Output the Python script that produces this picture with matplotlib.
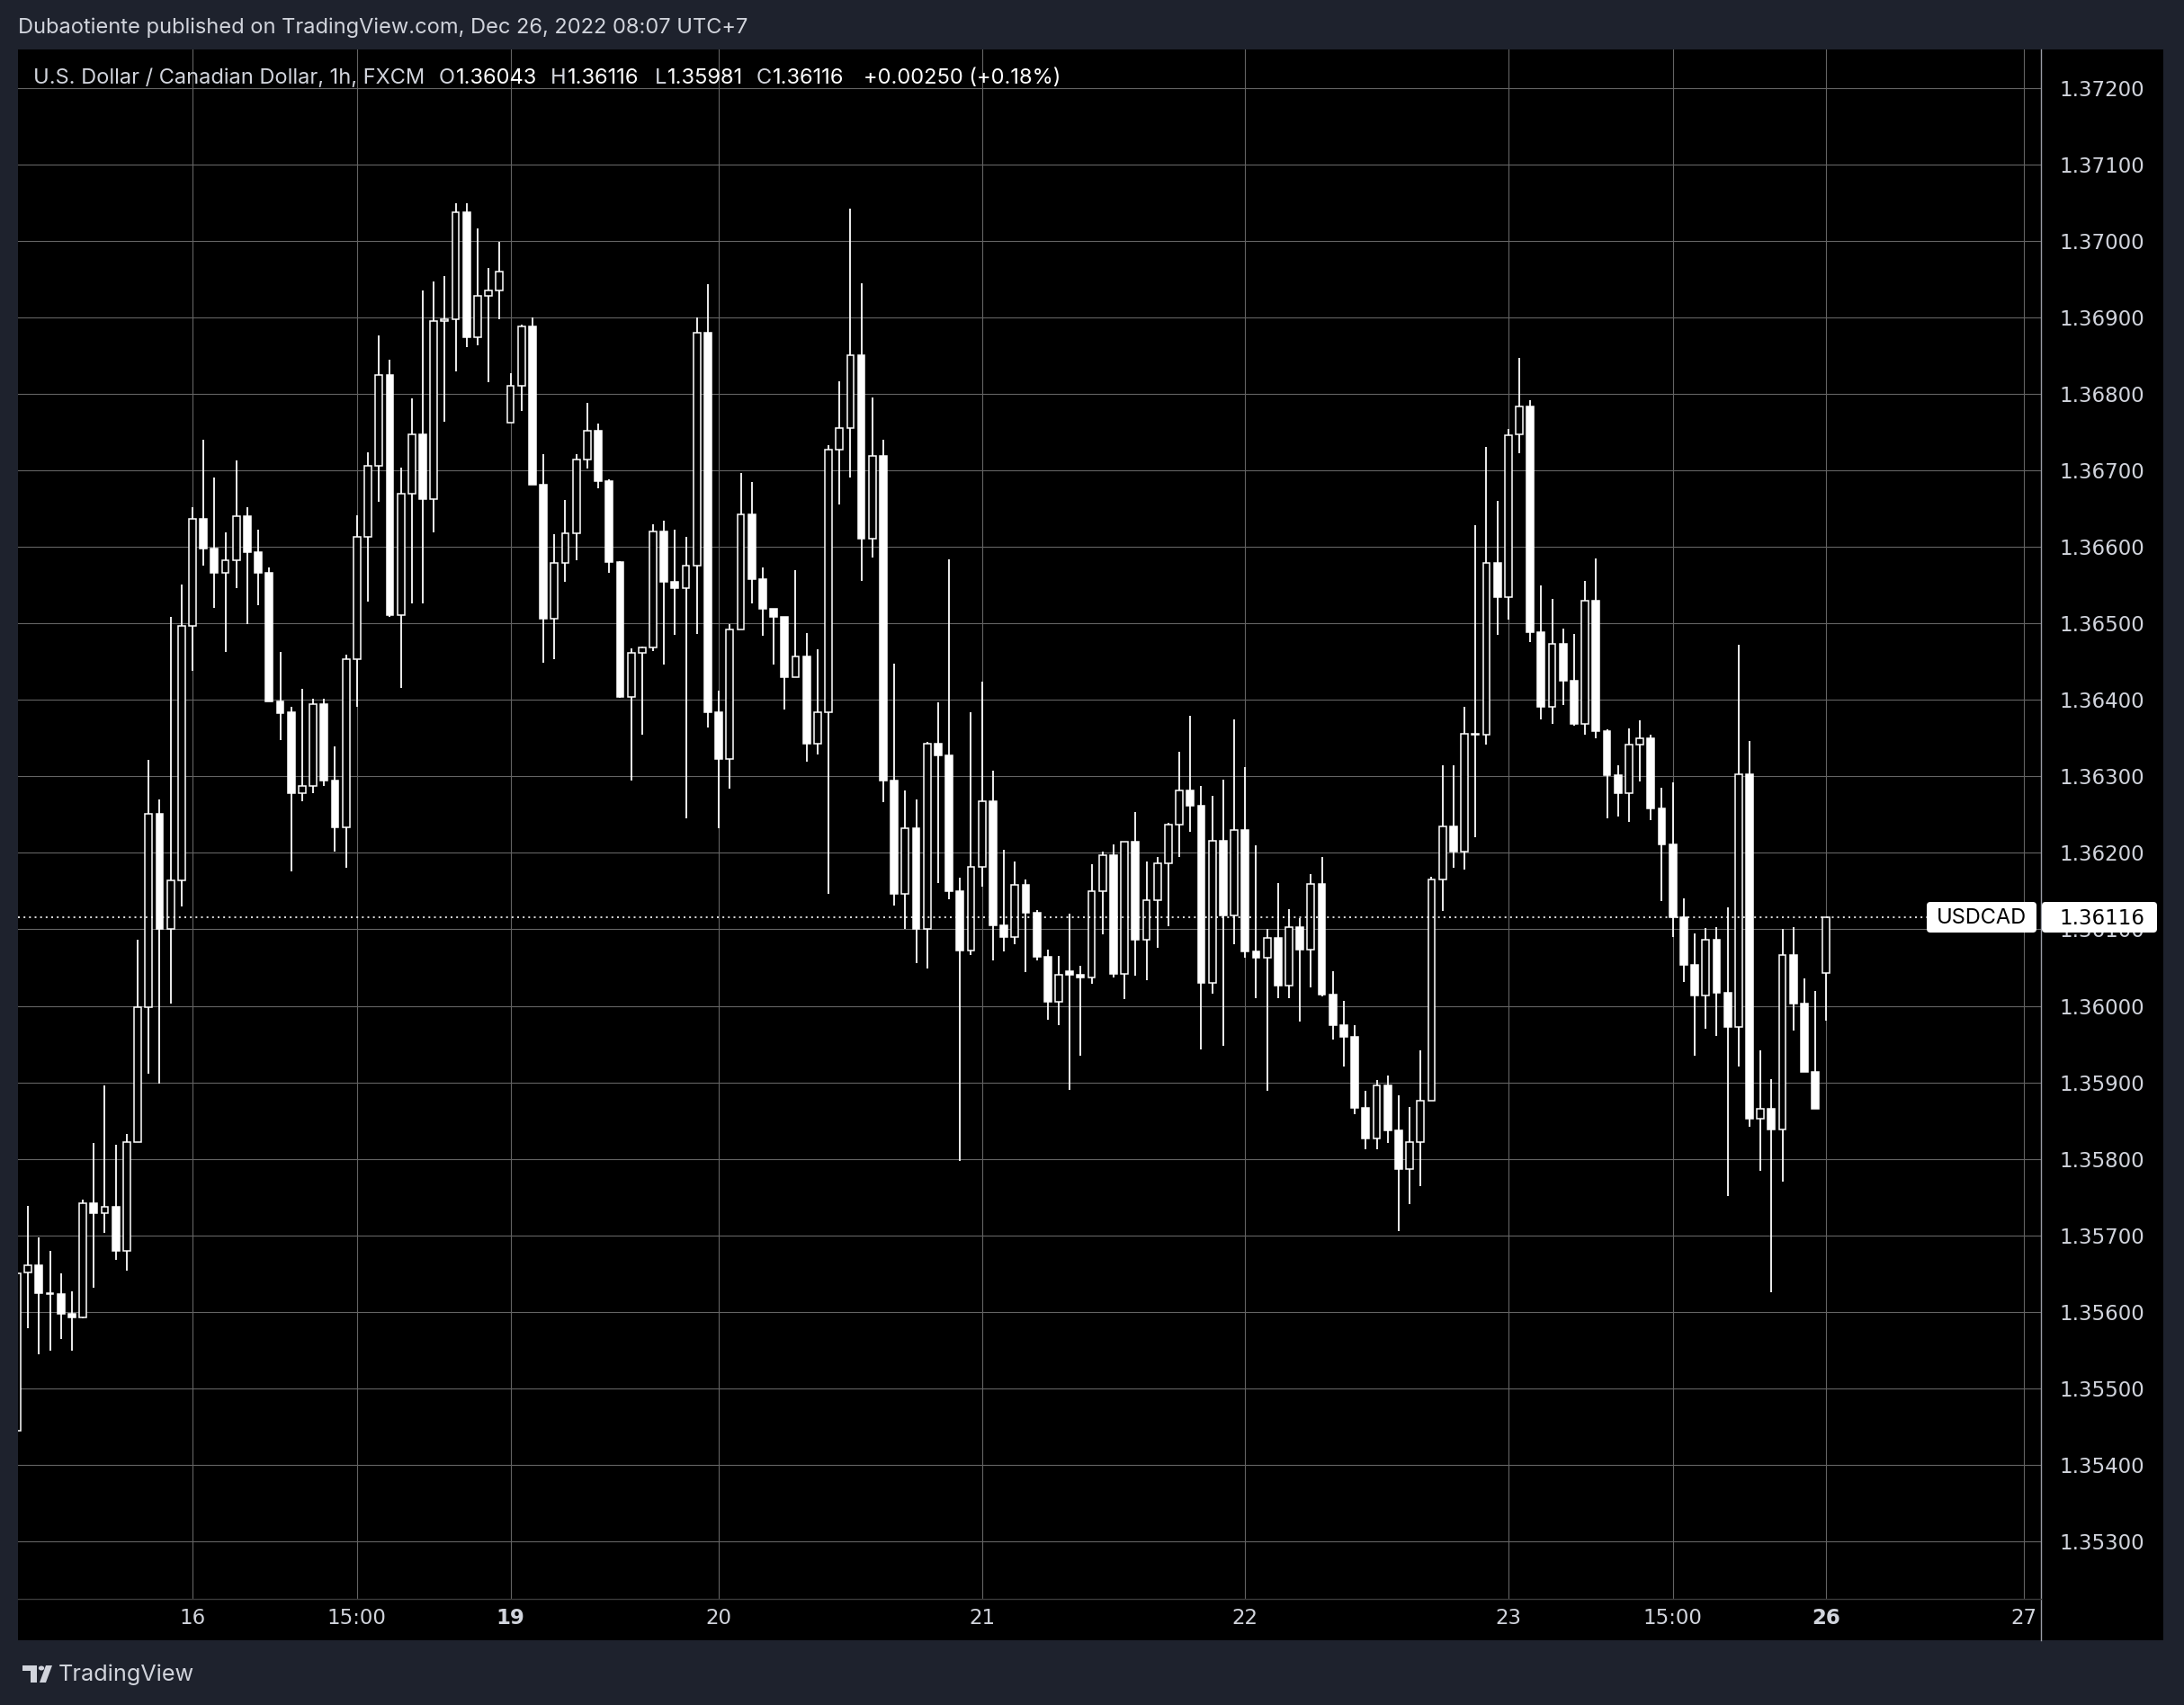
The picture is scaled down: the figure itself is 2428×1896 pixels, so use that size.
import matplotlib
matplotlib.use("Agg")
import matplotlib.pyplot as plt
from matplotlib.patches import Rectangle, FancyBboxPatch, Circle, Polygon
from matplotlib.lines import Line2D
import numpy as np

plt.rcParams['font.family'] = ['Inter', 'DejaVu Sans']

# ---------------- data (hourly USDCAD, FXCM) ----------------
opens = [1.35445, 1.35651, 1.35661, 1.35625, 1.35623, 1.35598, 1.35593, 1.35742, 1.35729, 1.35737,
         1.35680, 1.35822, 1.35998, 1.36251, 1.36100, 1.36164, 1.36497, 1.36637, 1.36598, 1.36566,
         1.36582, 1.36640, 1.36593, 1.36566, 1.36398, 1.36384, 1.36278, 1.36287, 1.36395, 1.36295,
         1.36233, 1.36453, 1.36613, 1.36706, 1.36825, 1.36511, 1.36670, 1.36747, 1.36662, 1.36895,
         1.36897, 1.37037, 1.36874, 1.36928, 1.36935, 1.36762, 1.36810, 1.36888, 1.36681, 1.36506,
         1.36579, 1.36618, 1.36714, 1.36752, 1.36686, 1.36580, 1.36404, 1.36461, 1.36468, 1.36620,
         1.36554, 1.36546, 1.36576, 1.36880, 1.36384, 1.36323, 1.36492, 1.36642, 1.36558, 1.36519,
         1.36508, 1.36430, 1.36457, 1.36343, 1.36384, 1.36727, 1.36755, 1.36850, 1.36611, 1.36719,
         1.36295, 1.36146, 1.36232, 1.36100, 1.36343, 1.36328, 1.36150, 1.36072, 1.36182, 1.36267,
         1.36105, 1.36090, 1.36158, 1.36122, 1.36064, 1.36005, 1.36045, 1.36041, 1.36037, 1.36150,
         1.36197, 1.36042, 1.36215, 1.36086, 1.36138, 1.36186, 1.36237, 1.36282, 1.36262, 1.36030,
         1.36216, 1.36118, 1.36230, 1.36071, 1.36063, 1.36089, 1.36027, 1.36103, 1.36073, 1.36159,
         1.36015, 1.35975, 1.35959, 1.35867, 1.35827, 1.35896, 1.35837, 1.35787, 1.35822, 1.35876,
         1.36165, 1.36234, 1.36202, 1.36356, 1.36354, 1.36579, 1.36534, 1.36747, 1.36783, 1.36488,
         1.36391, 1.36473, 1.36425, 1.36369, 1.36530, 1.36359, 1.36302, 1.36278, 1.36341, 1.36350,
         1.36258, 1.36211, 1.36116, 1.36053, 1.36014, 1.36086, 1.36017, 1.35972, 1.36303, 1.35852,
         1.35865, 1.35839, 1.36066, 1.36003, 1.35914, 1.36043]
highs = [1.35660, 1.35739, 1.35697, 1.35680, 1.35650, 1.35627, 1.35747, 1.35821, 1.35896, 1.35819,
         1.35832, 1.36086, 1.36321, 1.36270, 1.36508, 1.36551, 1.36652, 1.36740, 1.36691, 1.36619,
         1.36713, 1.36652, 1.36623, 1.36573, 1.36463, 1.36391, 1.36414, 1.36401, 1.36401, 1.36339,
         1.36459, 1.36641, 1.36723, 1.36876, 1.36845, 1.36704, 1.36794, 1.36935, 1.36947, 1.36954,
         1.37049, 1.37049, 1.37016, 1.36964, 1.36999, 1.36827, 1.36890, 1.36900, 1.36721, 1.36617,
         1.36661, 1.36721, 1.36788, 1.36761, 1.36688, 1.36581, 1.36467, 1.36470, 1.36629, 1.36634,
         1.36623, 1.36613, 1.36900, 1.36943, 1.36412, 1.36499, 1.36696, 1.36685, 1.36573, 1.36519,
         1.36508, 1.36569, 1.36487, 1.36466, 1.36733, 1.36816, 1.37042, 1.36944, 1.36795, 1.36740,
         1.36447, 1.36281, 1.36270, 1.36345, 1.36397, 1.36584, 1.36168, 1.36384, 1.36424, 1.36307,
         1.36204, 1.36189, 1.36165, 1.36125, 1.36074, 1.36065, 1.36121, 1.36052, 1.36185, 1.36202,
         1.36211, 1.36215, 1.36253, 1.36189, 1.36195, 1.36239, 1.36332, 1.36379, 1.36288, 1.36275,
         1.36296, 1.36375, 1.36312, 1.36210, 1.36100, 1.36161, 1.36127, 1.36115, 1.36172, 1.36195,
         1.36045, 1.36006, 1.35975, 1.35889, 1.35903, 1.35909, 1.35883, 1.35868, 1.35942, 1.36169,
         1.36314, 1.36314, 1.36391, 1.36628, 1.36731, 1.36660, 1.36754, 1.36847, 1.36792, 1.36550,
         1.36532, 1.36493, 1.36486, 1.36555, 1.36585, 1.36361, 1.36315, 1.36363, 1.36373, 1.36355,
         1.36285, 1.36292, 1.36140, 1.36095, 1.36102, 1.36103, 1.36129, 1.36472, 1.36346, 1.35942,
         1.35904, 1.36100, 1.36103, 1.36036, 1.36020, 1.36116]
lows = [1.35440, 1.35579, 1.35545, 1.35549, 1.35565, 1.35549, 1.35592, 1.35632, 1.35703, 1.35668,
        1.35654, 1.35822, 1.35911, 1.35898, 1.36003, 1.36130, 1.36438, 1.36575, 1.36520, 1.36462,
        1.36546, 1.36499, 1.36524, 1.36398, 1.36347, 1.36176, 1.36268, 1.36278, 1.36287, 1.36202,
        1.36181, 1.36391, 1.36528, 1.36659, 1.36508, 1.36416, 1.36526, 1.36526, 1.36619, 1.36764,
        1.36829, 1.36861, 1.36863, 1.36815, 1.36898, 1.36762, 1.36778, 1.36681, 1.36449, 1.36453,
        1.36554, 1.36583, 1.36702, 1.36676, 1.36566, 1.36403, 1.36294, 1.36355, 1.36464, 1.36446,
        1.36485, 1.36245, 1.36486, 1.36364, 1.36232, 1.36284, 1.36492, 1.36526, 1.36484, 1.36446,
        1.36387, 1.36430, 1.36319, 1.36329, 1.36146, 1.36655, 1.36691, 1.36556, 1.36586, 1.36266,
        1.36131, 1.36100, 1.36056, 1.36049, 1.36160, 1.36139, 1.35797, 1.36066, 1.36156, 1.36060,
        1.36071, 1.36081, 1.36044, 1.36060, 1.35982, 1.35975, 1.35890, 1.35935, 1.36029, 1.36093,
        1.36037, 1.36009, 1.36040, 1.36034, 1.36076, 1.36104, 1.36195, 1.36227, 1.35943, 1.36016,
        1.35948, 1.36081, 1.36063, 1.36010, 1.35889, 1.36010, 1.36010, 1.35979, 1.36024, 1.36013,
        1.35956, 1.35921, 1.35858, 1.35813, 1.35813, 1.35821, 1.35706, 1.35741, 1.35764, 1.35876,
        1.36124, 1.36181, 1.36178, 1.36220, 1.36342, 1.36485, 1.36505, 1.36722, 1.36475, 1.36375,
        1.36368, 1.36393, 1.36366, 1.36355, 1.36350, 1.36245, 1.36248, 1.36240, 1.36293, 1.36243,
        1.36137, 1.36090, 1.36031, 1.35935, 1.35970, 1.35961, 1.35751, 1.35921, 1.35842, 1.35784,
        1.35626, 1.35770, 1.35968, 1.35914, 1.35865, 1.35981]
closes = [1.35650, 1.35661, 1.35625, 1.35623, 1.35598, 1.35593, 1.35742, 1.35729, 1.35737, 1.35680,
          1.35822, 1.35998, 1.36251, 1.36100, 1.36164, 1.36497, 1.36637, 1.36598, 1.36566, 1.36582,
          1.36640, 1.36593, 1.36566, 1.36398, 1.36383, 1.36278, 1.36287, 1.36395, 1.36295, 1.36233,
          1.36453, 1.36613, 1.36706, 1.36825, 1.36511, 1.36670, 1.36747, 1.36662, 1.36895, 1.36897,
          1.37037, 1.36874, 1.36928, 1.36935, 1.36960, 1.36810, 1.36888, 1.36681, 1.36506, 1.36579,
          1.36618, 1.36714, 1.36752, 1.36686, 1.36580, 1.36404, 1.36461, 1.36468, 1.36620, 1.36554,
          1.36546, 1.36576, 1.36880, 1.36384, 1.36323, 1.36492, 1.36642, 1.36558, 1.36519, 1.36508,
          1.36430, 1.36457, 1.36343, 1.36384, 1.36727, 1.36755, 1.36850, 1.36611, 1.36719, 1.36295,
          1.36146, 1.36232, 1.36100, 1.36343, 1.36328, 1.36150, 1.36072, 1.36182, 1.36267, 1.36105,
          1.36090, 1.36158, 1.36122, 1.36064, 1.36005, 1.36041, 1.36041, 1.36037, 1.36150, 1.36197,
          1.36042, 1.36215, 1.36086, 1.36138, 1.36186, 1.36237, 1.36282, 1.36262, 1.36030, 1.36216,
          1.36118, 1.36230, 1.36071, 1.36063, 1.36089, 1.36027, 1.36103, 1.36073, 1.36159, 1.36015,
          1.35975, 1.35959, 1.35867, 1.35827, 1.35896, 1.35837, 1.35787, 1.35822, 1.35876, 1.36165,
          1.36234, 1.36202, 1.36356, 1.36355, 1.36579, 1.36534, 1.36746, 1.36783, 1.36488, 1.36391,
          1.36473, 1.36425, 1.36369, 1.36530, 1.36359, 1.36302, 1.36278, 1.36341, 1.36350, 1.36258,
          1.36211, 1.36116, 1.36053, 1.36014, 1.36086, 1.36017, 1.35972, 1.36303, 1.35852, 1.35865,
          1.35839, 1.36066, 1.36003, 1.35914, 1.35865, 1.36116]

time_tick_bars = [16, 31, 45, 64, 88, 112, 136, 151, 165, 183]
time_tick_labels = ["16", "15:00", "19", "20", "21", "22", "23", "15:00", "26", "27"]
bold_time_labels = ["19", "26"]
price_ticks = [1.353, 1.354, 1.355, 1.356, 1.357, 1.358, 1.359, 1.360, 1.361, 1.362,
               1.363, 1.364, 1.365, 1.366, 1.367, 1.368, 1.369, 1.370, 1.371, 1.372]
symbol = "USDCAD"
last_price = 1.36116
title = "U.S. Dollar / Canadian Dollar, 1h, FXCM"
ohlc_text = [("O", "1.36043"), ("H", "1.36116"), ("L", "1.35981"), ("C", "1.36116")]
change_text = "+0.00250 (+0.18%)"
publisher_text = "Dubaotiente published on TradingView.com, Dec 26, 2022 08:07 UTC+7"

# ---------------- layout ----------------
W, H = 2428, 1896
FRAME = '#1e222d'
TXT = '#d1d4dc'
GRID = '#646464'
SEP = '#9a9da6'
NUMFONT = ['DejaVu Sans']

fig = plt.figure(figsize=(W / 100, H / 100), dpi=100, facecolor=FRAME)
renderer = fig.canvas.get_renderer()

def fx(px):
    return px / W

def fy(py):
    return 1 - py / H

# black panel (behind the axes)
fig.patches.append(Rectangle((fx(20), fy(1824)), fx(2405) - fx(20), fy(55) - fy(1824),
                             transform=fig.transFigure, facecolor='black', edgecolor='none', zorder=-10))

ax = fig.add_axes([fx(20), fy(1778), fx(2269) - fx(20), fy(55) - fy(1778)])
ax.set_zorder(1)
ax.set_facecolor('black')
ax.set_xlim(0.085, 184.58)
ax.set_ylim(1.352249, 1.372501)

o = np.array(opens)
h = np.array(highs)
l = np.array(lows)
c = np.array(closes)
x = np.arange(len(o))
up = c >= o

# wicks
ax.vlines(x, l, h, color='white', lw=1.3, zorder=2)
# bodies
bottoms = np.minimum(o, c)
heights = np.abs(c - o)
ax.bar(x[up], heights[up], bottom=bottoms[up], width=0.64, facecolor='black',
       edgecolor='white', linewidth=1.1, zorder=3)
ax.bar(x[~up], heights[~up], bottom=bottoms[~up], width=0.64, facecolor='white',
       edgecolor='white', linewidth=1.1, zorder=3)

# last price dotted line
ax.axhline(last_price, xmin=0, xmax=(2143 - 20) / (2269 - 20), color='white',
           linestyle=(0, (1.2, 2.5)), lw=1.2, zorder=4)

# ticks / grid
ax.set_xticks(time_tick_bars)
ax.set_xticklabels(time_tick_labels, family=NUMFONT)
for lab in ax.get_xticklabels():
    if lab.get_text() in bold_time_labels:
        lab.set_fontweight('bold')
        lab.set_color('white')
ax.tick_params(axis='x', length=0, pad=7, colors=TXT, labelsize=16.5)
ax.yaxis.tick_right()
ax.set_yticks(price_ticks)
ax.set_yticklabels([f"{p:.5f}" for p in price_ticks], family=NUMFONT)
ax.tick_params(axis='y', length=0, pad=15, colors=TXT, labelsize=16.5)
ax.grid(True, color=GRID, lw=0.8)
ax.set_axisbelow(True)
for s in ax.spines.values():
    s.set_visible(False)

# separators
fig.lines.append(Line2D([fx(2269), fx(2269)], [fy(55), fy(1824)], transform=fig.transFigure,
                        color=SEP, lw=1.0, zorder=5))
fig.lines.append(Line2D([fx(20), fx(2269)], [fy(1778), fy(1778)], transform=fig.transFigure,
                        color='#3a3a3a', lw=1.0, zorder=5))

# last price boxes
for (x0, x1) in [(2142, 2264), (2270, 2398)]:
    fig.patches.append(FancyBboxPatch((x0, H - 1037), x1 - x0, 34,
                                      boxstyle="round,pad=0,rounding_size=4",
                                      transform=None, facecolor='white', edgecolor='none', zorder=10))
fig.text(fx(2203), fy(1021), symbol, color='black', fontsize=17, ha='center', va='center', zorder=11)
fig.text(fx(2337), fy(1021), f"{last_price:.5f}", color='black', fontsize=16.5, family=NUMFONT,
         ha='center', va='center', zorder=11)

# top publisher bar
fig.text(fx(20), fy(31), publisher_text, color=TXT, fontsize=17, ha='left', va='center')

# chart legend line
LY = 87
fig.text(fx(37), fy(LY), title, color=TXT, fontsize=17, ha='left', va='center', zorder=12)
ohlc_x = [488, 612, 728, 841]
for (lab, val), px in zip(ohlc_text, ohlc_x):
    t = fig.text(fx(px), fy(LY), lab, color=TXT, fontsize=17, ha='left', va='center', zorder=12)
    bb = t.get_window_extent(renderer=renderer)
    fig.text(fx(px + bb.width + 1), fy(LY), val, color='white', fontsize=17, ha='left', va='center', zorder=12)
fig.text(fx(960), fy(LY), change_text, color='white', fontsize=17, ha='left', va='center', zorder=12)

# TradingView logo (simple shapes) + wordmark
fig.patches.append(Polygon([(fx(25), fy(1852)), (fx(41), fy(1852)), (fx(41), fy(1871)),
                            (fx(34), fy(1871)), (fx(34), fy(1858)), (fx(25), fy(1858))],
                           closed=True, transform=fig.transFigure, facecolor=TXT, edgecolor='none'))
fig.patches.append(Circle((fx(46), fy(1855)), 3.2 / W, transform=fig.transFigure,
                          facecolor=TXT, edgecolor='none'))
fig.patches.append(Polygon([(fx(51), fy(1852)), (fx(58), fy(1852)), (fx(51), fy(1871)), (fx(44), fy(1871))],
                           closed=True, transform=fig.transFigure, facecolor=TXT, edgecolor='none'))
fig.text(fx(65), fy(1862), "TradingView", color=TXT, fontsize=18.2, ha='left', va='center')

fig.savefig("out.png", dpi=100, facecolor=FRAME)
